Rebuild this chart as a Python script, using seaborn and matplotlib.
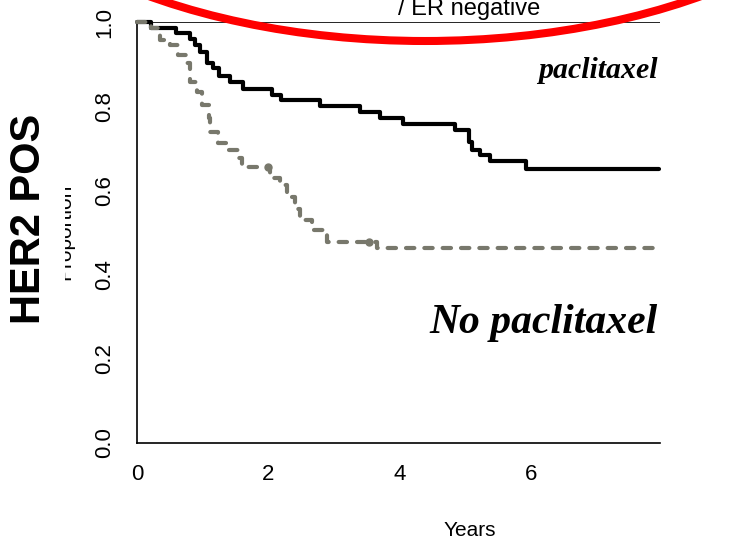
import matplotlib
matplotlib.use("Agg")
import matplotlib.pyplot as plt
from matplotlib.patches import Ellipse, Rectangle
import seaborn as sns
import pandas as pd

# ---- data ----
times_pac = [0, 0.21, 0.60, 0.81, 0.88, 0.96, 1.06, 1.16, 1.25, 1.42, 1.61, 2.05, 2.20,
             2.79, 3.39, 3.70, 4.05, 4.85, 5.06, 5.10, 5.23, 5.38, 5.93, 7.95]
surv_pac = [1.0, 0.985, 0.973, 0.959, 0.945, 0.929, 0.902, 0.890, 0.872, 0.858, 0.842,
            0.827, 0.815, 0.800, 0.787, 0.773, 0.758, 0.743, 0.715, 0.697, 0.684, 0.670,
            0.652, 0.652]
times_nopac = [0, 0.22, 0.35, 0.50, 0.63, 0.76, 0.81, 0.91, 0.99, 1.09, 1.11, 1.24, 1.39,
               1.54, 1.60, 2.03, 2.18, 2.28, 2.41, 2.48, 2.66, 2.89, 3.65, 7.95]
surv_nopac = [1.0, 0.985, 0.957, 0.945, 0.922, 0.902, 0.858, 0.834, 0.803, 0.771, 0.739,
              0.712, 0.696, 0.676, 0.656, 0.629, 0.613, 0.585, 0.557, 0.530, 0.506, 0.478,
              0.462, 0.462]
censor_nopac_t = [2.0, 3.53]
censor_nopac_s = [0.656, 0.478]
x_ticks = [0, 2, 4, 6]
y_ticks = [0.0, 0.2, 0.4, 0.6, 0.8, 1.0]
y_minor = [0.1, 0.3, 0.5, 0.7, 0.9]

sns.set_theme(style="white")
plt.rcParams["font.family"] = ["Liberation Sans", "DejaVu Sans"]

W, H = 731, 541
fig = plt.figure(figsize=(W / 100, H / 100), dpi=100)
x0, x1, y0, y1 = 137, 660, 443, 22
ax = fig.add_axes([x0 / W, 1 - y0 / H, (x1 - x0) / W, (y0 - y1) / H])

df_p = pd.DataFrame({"t": times_pac, "s": surv_pac})
df_n = pd.DataFrame({"t": times_nopac, "s": surv_nopac})
sns.lineplot(data=df_p, x="t", y="s", ax=ax, drawstyle="steps-post", color="black",
             lw=3.0, estimator=None, sort=False, clip_on=False, zorder=3)
sns.lineplot(data=df_n, x="t", y="s", ax=ax, drawstyle="steps-post", color="#78786c",
             lw=3.0, linestyle=(0, (2.0, 2.4)), dash_capstyle="round", estimator=None,
             sort=False, clip_on=False, zorder=3)
ax.plot(censor_nopac_t, censor_nopac_s, "o", color="#78786c", ms=5, zorder=3)

ax.axhline(1.0, color="black", lw=1.2, zorder=2)

ax.set_xlim(0, 523 / 65.67)
ax.set_ylim(0, 1)
for s in ["top", "right"]:
    ax.spines[s].set_visible(False)
for s in ["left", "bottom"]:
    ax.spines[s].set_color("black")
    ax.spines[s].set_linewidth(1.2)

ax.set_xticks(x_ticks)
ax.set_xticklabels([str(v) for v in x_ticks])
ax.set_yticks(y_ticks)
ax.set_yticklabels([f"{v:.1f}" for v in y_ticks], rotation=90, va="center")
ax.set_yticks(y_minor, minor=True)
ax.tick_params(axis="both", which="both", direction="out", color="black", width=1.2,
               labelsize=16, labelcolor="black")
ax.tick_params(axis="x", length=8, pad=7)
ax.tick_params(axis="y", which="both", length=7, pad=9)
ax.set_xlabel("")
ax.set_ylabel("")

# partially hidden y label
fig.text(65 / W, 1 - 232 / H, "Proportion", rotation=90, ha="center", va="center",
         fontsize=15, color="black")
fig.patches.append(Rectangle((0, 1 - 330 / H), 64.5 / W, 200 / H, transform=fig.transFigure,
                             facecolor="white", edgecolor="none", zorder=5))
fig.text(29 / W, 1 - 219 / H, "HER2 POS", rotation=90, ha="center", va="center",
         fontsize=30, fontweight="bold", color="black", zorder=6)

fig.text(470 / W, 1 - 530 / H, "Years", ha="center", va="center", fontsize=15, color="black")
fig.text(469 / W, 1 - 15 / H, "/ ER negative", ha="center", va="baseline", fontsize=17,
         color="black")

fig.text(658 / W, 1 - 78 / H, "paclitaxel", ha="right", va="baseline", fontsize=21.5,
         family="Liberation Serif", fontweight="bold", style="italic", color="black")
fig.text(658 / W, 1 - 333 / H, "No paclitaxel", ha="right", va="baseline", fontsize=30,
         family="Liberation Serif", fontweight="bold", style="italic", color="black")

fig.patches.append(Ellipse((425 / W, 1 + 200 / H), 2 * 475 / W, 2 * 241 / H,
                           transform=fig.transFigure, facecolor="none", edgecolor="#ff0000",
                           lw=5.8, zorder=10))

fig.savefig("out.png", dpi=100)
